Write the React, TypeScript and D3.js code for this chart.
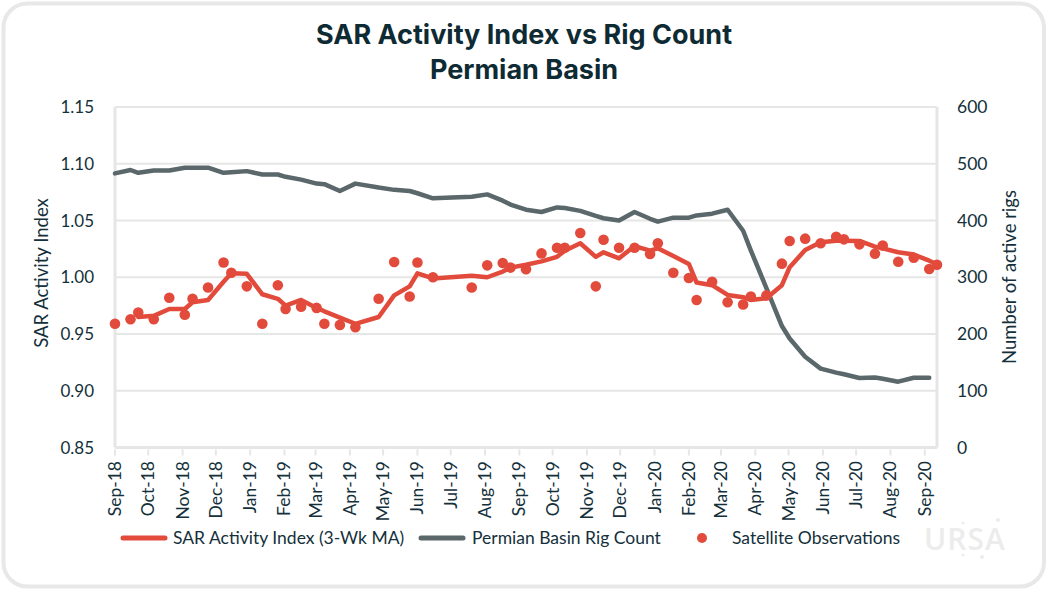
import React from "react";
import * as d3 from "d3";

const obsDates = [
  "2018-09-01","2018-09-15","2018-09-22","2018-10-06","2018-10-20","2018-11-03","2018-11-10","2018-11-24","2018-12-08","2018-12-15",
  "2018-12-29","2019-01-12","2019-01-26","2019-02-02","2019-02-16","2019-03-02","2019-03-09","2019-03-23","2019-04-06","2019-04-27",
  "2019-05-11","2019-05-25","2019-06-01","2019-06-15","2019-07-20","2019-08-03","2019-08-17","2019-08-24","2019-09-07","2019-09-21",
  "2019-10-05","2019-10-12","2019-10-26","2019-11-09","2019-11-16","2019-11-30","2019-12-14","2019-12-28","2020-01-04","2020-01-18",
  "2020-02-01","2020-02-08","2020-02-22","2020-03-07","2020-03-21","2020-03-28","2020-04-11","2020-04-25","2020-05-02","2020-05-16",
  "2020-05-30","2020-06-13","2020-06-20","2020-07-04","2020-07-18","2020-07-25","2020-08-08","2020-08-22","2020-09-05","2020-09-12",
];

const satelliteObs = [
  0.959, 0.963, 0.969, 0.963, 0.982, 0.967, 0.981, 0.991, 1.013, 1.004,
  0.992, 0.959, 0.993, 0.972, 0.974, 0.973, 0.959, 0.958, 0.956, 0.981,
  1.0135, 0.983, 1.013, 1.0, 0.991, 1.0105, 1.0125, 1.0085, 1.007, 1.021,
  1.026, 1.026, 1.039, 0.992, 1.033, 1.026, 1.026, 1.0205, 1.03, 1.004,
  0.9994, 0.98, 0.996, 0.978, 0.976, 0.983, 0.984, 1.012, 1.032, 1.034,
  1.03, 1.0357, 1.0334, 1.029, 1.0208, 1.028, 1.0137, 1.0172, 1.0073, 1.011,
];

const sarMA: (number | null)[] = [
  null, null, 0.965, 0.966, 0.972, 0.972, 0.978, 0.98, 0.996, 1.0035,
  1.003, 0.985, 0.981, 0.975, 0.98, 0.973, 0.97, 0.9645, 0.959, 0.965,
  0.984, 0.992, 1.0035, 0.999, 1.0014, 1.0, 1.005, 1.0085, 1.011, 1.014,
  1.018, 1.0234, 1.03, 1.018, 1.022, 1.0167, 1.0275, 1.0234, 1.0255, 1.0187,
  1.0117, 0.9953, 0.993, 0.9844, 0.9824, 0.98, 0.9815, 0.993, 1.0088, 1.024,
  1.0308, 1.0322, 1.0322, 1.032, 1.027, 1.0255, 1.022, 1.02, 1.0146, 1.0114,
];

const rigCount: (number | null)[] = [
  483, 489, 484, 488, 488, 493, 493, 493, 484, 485,
  487, 481, 481, 477, 472, 465, 464, 452, 465, 458,
  454, 452, 448, 439, 442, 446, 435, 428, 419, 415,
  423, 422, 417, 408, 404, 400, 415, 403, 398, 405,
  405, 409, 412, 419, 382, 347, 281, 214, 192, 160,
  139, 132, 129, 122.5, 123.5, 121, 116, 123, 123, null,
];

const leftTicks = [0.85, 0.9, 0.95, 1.0, 1.05, 1.1, 1.15];
const rightTicks = [0, 100, 200, 300, 400, 500, 600];
const titleLines = ["SAR Activity Index vs Rig Count", "Permian Basin"];
const legendLabels = ["SAR Activity Index (3-Wk MA)", "Permian Basin Rig Count", "Satellite Observations"];

const RED = "#e24b3c";
const GRAY = "#5a676b";
const TEXT = "#14303a";
const TITLE = "#0e2a33";
const GRID = "#e6e6e6";
const BODY_FONT = "Lato, 'Open Sans', sans-serif";

export default function App() {
  const parse = d3.utcParse("%Y-%m-%d");
  const dates = obsDates.map((s) => parse(s) as Date);

  const left = 115, right = 937, top = 107, bottom = 447.5;
  const x = d3.scaleUtc().domain([parse("2018-09-01") as Date, parse("2020-09-12") as Date]).range([left, right]);
  const yL = d3.scaleLinear().domain([0.85, 1.15]).range([bottom, top]);
  const yR = d3.scaleLinear().domain([0, 600]).range([bottom, top]);

  const monthTicks = d3.utcMonth.range(parse("2018-09-01") as Date, parse("2020-09-02") as Date);
  const fmt = d3.utcFormat("%b-%y");

  const maLine = d3
    .line<number>()
    .defined((i) => sarMA[i] != null)
    .x((i) => x(dates[i]))
    .y((i) => yL(sarMA[i] as number));
  const rigLine = d3
    .line<number>()
    .defined((i) => rigCount[i] != null)
    .x((i) => x(dates[i]))
    .y((i) => yR(rigCount[i] as number));
  const idx = d3.range(dates.length);

  return (
    <svg width={1048} height={591} style={{ display: "block" }}>
      <style>{`body{margin:0}`}</style>
      <rect x={0} y={0} width={1048} height={591} fill="#ffffff" />
      <rect x={3.5} y={3.5} width={1040.5} height={583} rx={24} ry={24} fill="#ffffff" stroke="#e8e8e8" strokeWidth={4} />

      {titleLines.map((t, i) => (
        <text key={t} x={524} y={43.5 + i * 35} textAnchor="middle" fontFamily="Inter, 'Open Sans', sans-serif" fontWeight={700} fontSize={27} fill={TITLE}>
          {t}
        </text>
      ))}

      {/* grid */}
      {leftTicks.map((t) => (
        <line key={t} x1={left} x2={right} y1={yL(t)} y2={yL(t)} stroke={GRID} strokeWidth={2} />
      ))}
      <line x1={left} x2={left} y1={top} y2={bottom} stroke={GRID} strokeWidth={3} />
      <line x1={right} x2={right} y1={top} y2={bottom} stroke={GRID} strokeWidth={3} />
      <line x1={left} x2={right} y1={bottom} y2={bottom} stroke={GRID} strokeWidth={3} />

      {/* x ticks */}
      {monthTicks.map((d) => (
        <g key={d.toISOString()}>
          <line x1={x(d)} x2={x(d)} y1={bottom + 2} y2={bottom + 8} stroke={GRID} strokeWidth={2} />
          <text
            transform={`translate(${x(d) + 6},${461}) rotate(-90)`}
            textAnchor="end"
            fontFamily={BODY_FONT}
            fontSize={17.5}
            fill={TEXT}
          >
            {fmt(d)}
          </text>
        </g>
      ))}

      {/* left ticks */}
      {leftTicks.map((t) => (
        <text key={t} x={94} y={yL(t) + 6} textAnchor="end" fontFamily={BODY_FONT} fontSize={17} fill={TEXT}>
          {d3.format(".2f")(t)}
        </text>
      ))}
      {rightTicks.map((t) => (
        <text key={t} x={957} y={yR(t) + 6} textAnchor="start" fontFamily={BODY_FONT} fontSize={17.5} fill={TEXT}>
          {t}
        </text>
      ))}

      <text transform={`translate(48,273) rotate(-90)`} textAnchor="middle" fontFamily={BODY_FONT} fontSize={18.5} fill={TEXT}>
        SAR Activity Index
      </text>
      <text transform={`translate(1016,277) rotate(-90)`} textAnchor="middle" fontFamily={BODY_FONT} fontSize={18.5} fill={TEXT}>
        Number of active rigs
      </text>

      {/* series */}
      <path d={rigLine(idx) || ""} fill="none" stroke={GRAY} strokeWidth={4.5} strokeLinejoin="round" strokeLinecap="round" />
      <path d={maLine(idx) || ""} fill="none" stroke={RED} strokeWidth={4.5} strokeLinejoin="round" strokeLinecap="round" />
      {idx.map((i) => (
        <circle key={i} cx={x(dates[i])} cy={yL(satelliteObs[i])} r={5.3} fill={RED} />
      ))}

      {/* legend */}
      <line x1={123} x2={165} y1={538} y2={538} stroke={RED} strokeWidth={5} strokeLinecap="round" />
      <text x={173} y={544} fontFamily={BODY_FONT} fontSize={17.5} fill={TEXT}>{legendLabels[0]}</text>
      <line x1={421} x2={463} y1={538} y2={538} stroke={GRAY} strokeWidth={5} strokeLinecap="round" />
      <text x={472} y={544} fontFamily={BODY_FONT} fontSize={17.5} fill={TEXT}>{legendLabels[1]}</text>
      <circle cx={702} cy={538} r={5} fill={RED} />
      <text x={732} y={544} fontFamily={BODY_FONT} fontSize={17.5} fill={TEXT}>{legendLabels[2]}</text>

      {/* watermark */}
      <g fill="#ececec">
        <text x={924} y={550} fontFamily="'Open Sans', sans-serif" fontWeight={600} fontSize={30} letterSpacing={1}>URSA</text>
        <circle cx={998} cy={520} r={2} />
        <circle cx={963} cy={523} r={1.5} />
        <circle cx={963} cy={555} r={1.5} />
        <circle cx={982} cy={557} r={2} />
      </g>
    </svg>
  );
}
